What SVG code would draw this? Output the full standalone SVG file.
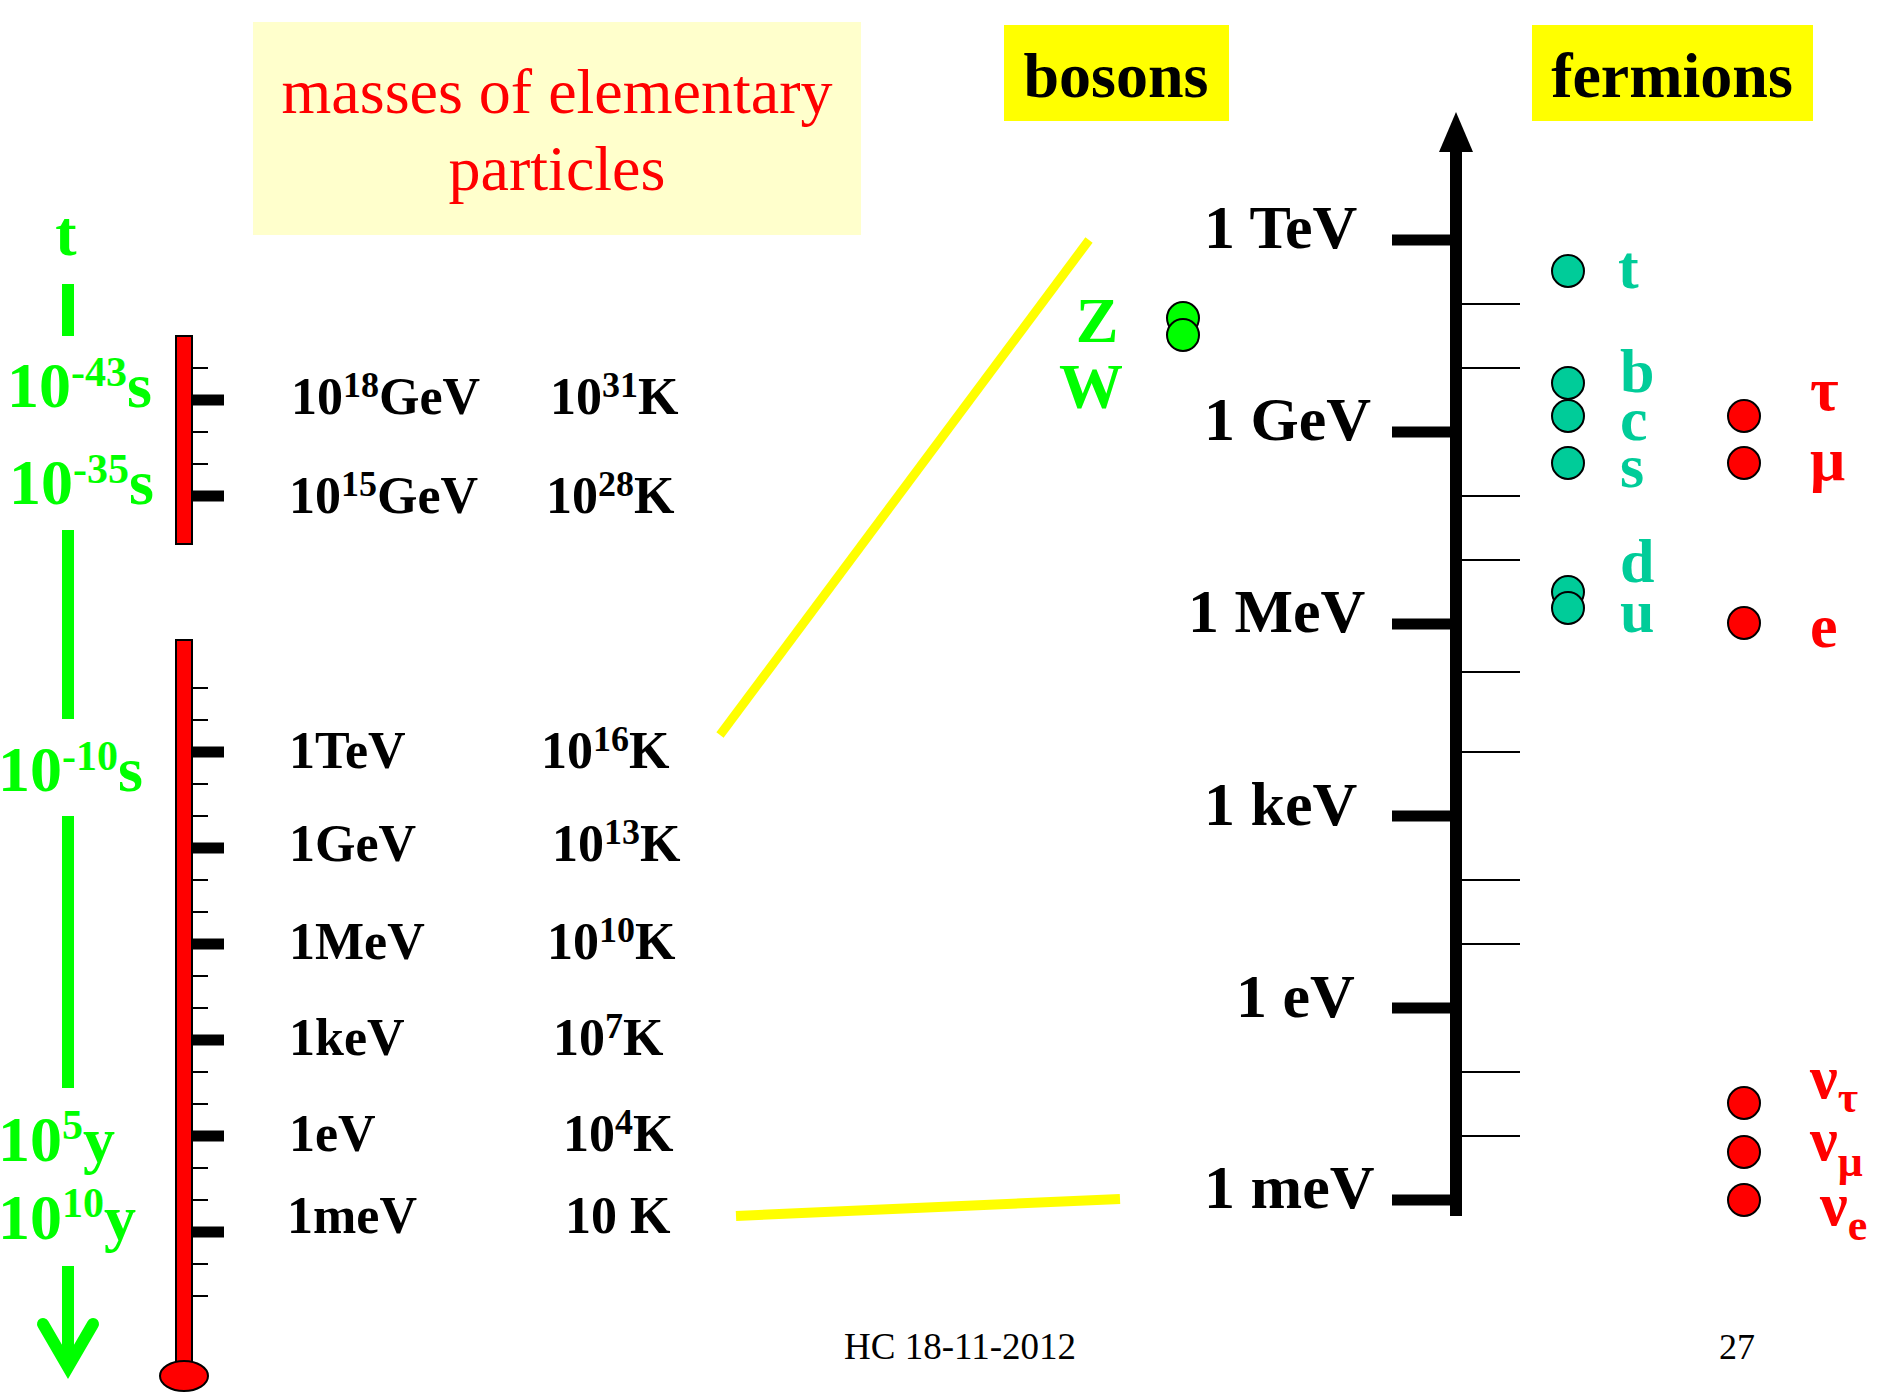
<svg xmlns="http://www.w3.org/2000/svg" width="1882" height="1392" viewBox="0 0 1882 1392">
<style>
text{font-family:"Liberation Serif","Times New Roman",serif;}
.b{font-weight:bold;}
.g{fill:#00FF00;font-weight:bold;font-size:64px;}
.k{fill:#000;font-weight:bold;font-size:52px;}
.ax{fill:#000;font-weight:bold;font-size:62px;}
.q{fill:#00CC99;font-weight:bold;font-size:62px;}
.l{fill:#FF0000;font-weight:bold;font-size:62px;}
.st{stroke:#000;stroke-width:2;}
.thin{stroke:#000;stroke-width:2;}
.big{stroke:#000;stroke-width:11;}
.gl{stroke:#00FF00;stroke-width:12;fill:none;}
.cq{fill:#00CC99;stroke:#000;stroke-width:2;}
.cl{fill:#FF0000;stroke:#000;stroke-width:2;}
.cb{fill:#00FF00;stroke:#000;stroke-width:2;}
.yl{stroke:#FFFF00;fill:none;}
</style>
<rect width="1882" height="1392" fill="#fff"/>

<g id="title">
<rect x="253" y="22" width="608" height="213" fill="#FFFFCC"/>
<text x="557" y="113" text-anchor="middle" font-size="64" fill="#FF0000">masses of elementary</text>
<text x="557" y="190" text-anchor="middle" font-size="64" fill="#FF0000">particles</text>
</g>

<g id="bosons-label">
<rect x="1004" y="25" width="225" height="96" fill="#FFFF00"/>
<text x="1116" y="97" text-anchor="middle" class="b" font-size="64" fill="#000">bosons</text>
</g>
<g id="fermions-label">
<rect x="1532" y="25" width="281" height="96" fill="#FFFF00"/>
<text x="1672" y="97" text-anchor="middle" class="b" font-size="64" fill="#000">fermions</text>
</g>

<g id="time-axis">
<line class="gl" x1="68" y1="284" x2="68" y2="336"/>
<line class="gl" x1="68" y1="530" x2="68" y2="719"/>
<line class="gl" x1="68" y1="816" x2="68" y2="1088"/>
<line class="gl" x1="68" y1="1266" x2="68" y2="1362"/>
<polyline class="gl" points="43,1324 68,1367 93,1324" stroke-linecap="round" stroke-linejoin="miter"/>
<text x="66" y="255" text-anchor="middle" class="g">t</text>
<text x="7" y="407" class="g">10<tspan dy="-21" font-size="42">-43</tspan><tspan dy="21">s</tspan></text>
<text x="9" y="504" class="g">10<tspan dy="-21" font-size="42">-35</tspan><tspan dy="21">s</tspan></text>
<text x="-2" y="791" class="g">10<tspan dy="-21" font-size="42">-10</tspan><tspan dy="21">s</tspan></text>
<text x="-2" y="1161" class="g">10<tspan dy="-22" font-size="42">5</tspan><tspan dy="22">y</tspan></text>
<text x="-2" y="1239" class="g">10<tspan dy="-22" font-size="42">10</tspan><tspan dy="22">y</tspan></text>
</g>

<g id="thermometer-top">
<rect x="176" y="336" width="16" height="208" fill="#FF0000" class="st"/>
<line class="thin" x1="192" y1="368" x2="208" y2="368"/>
<line class="big" x1="192" y1="400" x2="224" y2="400"/>
<line class="thin" x1="192" y1="432" x2="208" y2="432"/>
<line class="thin" x1="192" y1="464" x2="208" y2="464"/>
<line class="big" x1="192" y1="496" x2="224" y2="496"/>
</g>

<g id="thermometer-bottom">
<rect x="176" y="640" width="16" height="726" fill="#FF0000" class="st"/>
<ellipse cx="184" cy="1376" rx="24" ry="15" fill="#FF0000" class="st"/>
<line class="thin" x1="192" y1="688" x2="208" y2="688"/>
<line class="thin" x1="192" y1="720" x2="208" y2="720"/>
<line class="big" x1="192" y1="752" x2="224" y2="752"/>
<line class="thin" x1="192" y1="784" x2="208" y2="784"/>
<line class="thin" x1="192" y1="816" x2="208" y2="816"/>
<line class="big" x1="192" y1="848" x2="224" y2="848"/>
<line class="thin" x1="192" y1="880" x2="208" y2="880"/>
<line class="thin" x1="192" y1="912" x2="208" y2="912"/>
<line class="big" x1="192" y1="944" x2="224" y2="944"/>
<line class="thin" x1="192" y1="976" x2="208" y2="976"/>
<line class="thin" x1="192" y1="1008" x2="208" y2="1008"/>
<line class="big" x1="192" y1="1040" x2="224" y2="1040"/>
<line class="thin" x1="192" y1="1072" x2="208" y2="1072"/>
<line class="thin" x1="192" y1="1104" x2="208" y2="1104"/>
<line class="big" x1="192" y1="1136" x2="224" y2="1136"/>
<line class="thin" x1="192" y1="1168" x2="208" y2="1168"/>
<line class="thin" x1="192" y1="1200" x2="208" y2="1200"/>
<line class="big" x1="192" y1="1232" x2="224" y2="1232"/>
<line class="thin" x1="192" y1="1264" x2="208" y2="1264"/>
<line class="thin" x1="192" y1="1296" x2="208" y2="1296"/>
</g>

<g id="scale-labels">
<text x="291" y="414" class="k">10<tspan dy="-17" font-size="36">18</tspan><tspan dy="17">GeV</tspan></text>
<text x="550" y="414" class="k">10<tspan dy="-17" font-size="36">31</tspan><tspan dy="17">K</tspan></text>
<text x="289" y="513" class="k">10<tspan dy="-17" font-size="36">15</tspan><tspan dy="17">GeV</tspan></text>
<text x="546" y="513" class="k">10<tspan dy="-17" font-size="36">28</tspan><tspan dy="17">K</tspan></text>
<text x="289" y="768" class="k">1TeV</text>
<text x="541" y="768" class="k">10<tspan dy="-17" font-size="36">16</tspan><tspan dy="17">K</tspan></text>
<text x="289" y="861" class="k">1GeV</text>
<text x="552" y="861" class="k">10<tspan dy="-17" font-size="36">13</tspan><tspan dy="17">K</tspan></text>
<text x="289" y="959" class="k">1MeV</text>
<text x="547" y="959" class="k">10<tspan dy="-17" font-size="36">10</tspan><tspan dy="17">K</tspan></text>
<text x="289" y="1055" class="k">1keV</text>
<text x="553" y="1055" class="k">10<tspan dy="-17" font-size="36">7</tspan><tspan dy="17">K</tspan></text>
<text x="289" y="1151" class="k">1eV</text>
<text x="563" y="1151" class="k">10<tspan dy="-17" font-size="36">4</tspan><tspan dy="17">K</tspan></text>
<text x="287" y="1233" class="k">1meV</text>
<text x="565" y="1233" class="k">10 K</text>
</g>

<g id="connectors">
<line class="yl" x1="720" y1="735" x2="1089" y2="240" stroke-width="9"/>
<line class="yl" x1="736" y1="1216" x2="1120" y2="1199" stroke-width="10"/>
</g>

<g id="energy-axis">
<line x1="1456" y1="140" x2="1456" y2="1216" stroke="#000" stroke-width="12"/>
<polygon points="1456,112 1473,152 1439,152" fill="#000"/>
<line class="big" x1="1392" y1="240" x2="1456" y2="240" stroke-width="12"/>
<line class="big" x1="1392" y1="432" x2="1456" y2="432" stroke-width="12"/>
<line class="big" x1="1392" y1="624" x2="1456" y2="624" stroke-width="12"/>
<line class="big" x1="1392" y1="816" x2="1456" y2="816" stroke-width="12"/>
<line class="big" x1="1392" y1="1008" x2="1456" y2="1008" stroke-width="12"/>
<line class="big" x1="1392" y1="1200" x2="1456" y2="1200" stroke-width="12"/>
<line class="thin" x1="1462" y1="304" x2="1520" y2="304"/>
<line class="thin" x1="1462" y1="368" x2="1520" y2="368"/>
<line class="thin" x1="1462" y1="496" x2="1520" y2="496"/>
<line class="thin" x1="1462" y1="560" x2="1520" y2="560"/>
<line class="thin" x1="1462" y1="672" x2="1520" y2="672"/>
<line class="thin" x1="1462" y1="752" x2="1520" y2="752"/>
<line class="thin" x1="1462" y1="880" x2="1520" y2="880"/>
<line class="thin" x1="1462" y1="944" x2="1520" y2="944"/>
<line class="thin" x1="1462" y1="1072" x2="1520" y2="1072"/>
<line class="thin" x1="1462" y1="1136" x2="1520" y2="1136"/>
<text x="1204" y="248" class="ax">1 TeV</text>
<text x="1204" y="440" class="ax">1 GeV</text>
<text x="1188" y="632" class="ax">1 MeV</text>
<text x="1204" y="825" class="ax">1 keV</text>
<text x="1236" y="1017" class="ax">1 eV</text>
<text x="1204" y="1208" class="ax">1 meV</text>
</g>

<g id="boson-ZW">
<circle class="cb" cx="1183" cy="318" r="16"/>
<circle class="cb" cx="1183" cy="335" r="16"/>
<text x="1097" y="342" text-anchor="middle" class="g" font-size="62">Z</text>
<text x="1091" y="408" text-anchor="middle" class="g" font-size="62">W</text>
</g>

<g id="quark-t"><circle class="cq" cx="1568" cy="271" r="16"/><text x="1618" y="288" class="q">t</text></g>
<g id="quark-b"><circle class="cq" cx="1568" cy="383" r="16"/><text x="1620" y="392" class="q">b</text></g>
<g id="quark-c"><circle class="cq" cx="1568" cy="416" r="16"/><text x="1620" y="440" class="q">c</text></g>
<g id="quark-s"><circle class="cq" cx="1568" cy="463" r="16"/><text x="1620" y="487" class="q">s</text></g>
<g id="quark-d"><circle class="cq" cx="1568" cy="592" r="16"/><text x="1620" y="582" class="q">d</text></g>
<g id="quark-u"><circle class="cq" cx="1568" cy="608" r="16"/><text x="1620" y="632" class="q">u</text></g>

<g id="lepton-tau"><circle class="cl" cx="1744" cy="416" r="16"/><text x="1810" y="410" class="l">τ</text></g>
<g id="lepton-mu"><circle class="cl" cx="1744" cy="463" r="16"/><text x="1810" y="480" class="l">μ</text></g>
<g id="lepton-e"><circle class="cl" cx="1744" cy="623" r="16"/><text x="1810" y="647" class="l">e</text></g>
<g id="nu-tau"><circle class="cl" cx="1744" cy="1103" r="16"/><text x="1810" y="1098" class="l">ν<tspan dy="14" font-size="44">τ</tspan></text></g>
<g id="nu-mu"><circle class="cl" cx="1744" cy="1152" r="16"/><text x="1810" y="1160" class="l">ν<tspan dy="16" font-size="44">μ</tspan></text></g>
<g id="nu-e"><circle class="cl" cx="1744" cy="1200" r="16"/><text x="1820" y="1225" class="l">ν<tspan dy="15" font-size="44">e</tspan></text></g>

<g id="footer">
<text x="960" y="1359" text-anchor="middle" font-size="37" fill="#000">HC 18-11-2012</text>
<text x="1737" y="1359" text-anchor="middle" font-size="36" fill="#000">27</text>
</g>
</svg>
